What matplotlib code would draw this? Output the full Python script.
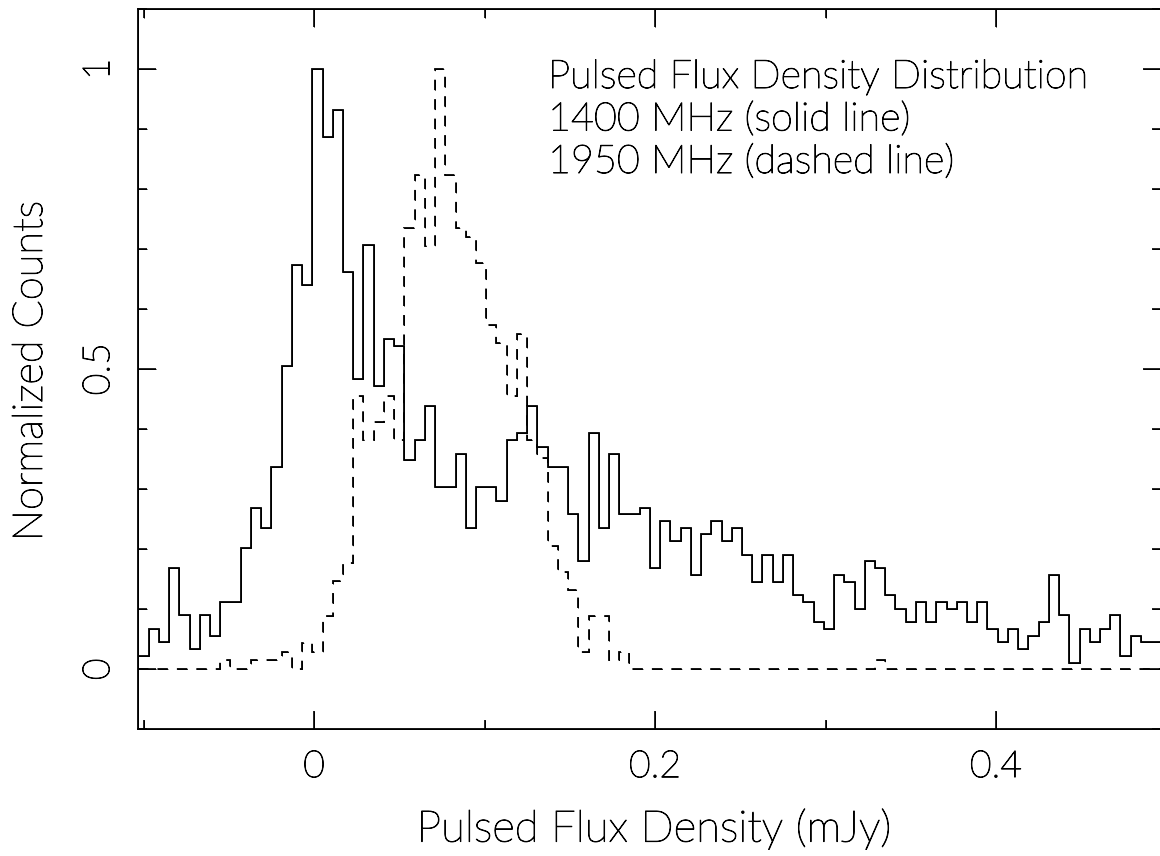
import numpy as np
import matplotlib
matplotlib.use("Agg")
import matplotlib.pyplot as plt
import matplotlib.patheffects as pe
from matplotlib.ticker import MultipleLocator

# histogram bins (mJy): 100 bins of 0.006 starting at -0.103
bin_start = -0.103
bin_width = 0.006
n_bins = 100

# counts per bin (1400 MHz, solid)
counts_1400 = [2, 6, 4, 15, 8, 3, 8, 5, 10, 10,
               18, 24, 21, 30, 45, 60, 57, 89, 79, 83,
               59, 43, 63, 42, 49, 48, 31, 34, 39, 27,
               27, 32, 21, 27, 27, 25, 34, 35, 39, 33,
               30, 30, 23, 16, 35, 21, 32, 23, 23, 24,
               15, 22, 19, 21, 14, 20, 22, 19, 21, 17,
               13, 17, 13, 17, 11, 10, 7, 6, 14, 13,
               9, 16, 15, 11, 9, 7, 10, 7, 10, 9,
               10, 7, 10, 6, 4, 6, 3, 5, 7, 14,
               8, 1, 6, 4, 6, 8, 2, 5, 4, 4]

# counts per bin (1950 MHz, dashed)
counts_1950 = [0, 0, 0, 0, 0, 0, 0, 0, 1, 0,
               0, 1, 1, 1, 2, 0, 3, 2, 6, 10,
               12, 31, 26, 28, 31, 26, 50, 56, 48, 68,
               56, 50, 49, 46, 39, 37, 31, 38, 26, 24,
               14, 11, 9, 2, 6, 6, 1, 2, 0, 0,
               0, 0, 0, 0, 0, 0, 0, 0, 0, 0,
               0, 0, 0, 0, 0, 0, 0, 0, 0, 0,
               0, 0, 1, 0, 0, 0, 0, 0, 0, 0,
               0, 0, 0, 0, 0, 0, 0, 0, 0, 0,
               0, 0, 0, 0, 0, 0, 0, 0, 0, 0]

legend_lines = ["Pulsed Flux Density Distribution",
                "1400 MHz (solid line)",
                "1950 MHz (dashed line)"]

edges = bin_start + bin_width * np.arange(n_bins + 1)
h1400 = np.array(counts_1400) / max(counts_1400)  # normalise to peak
h1950 = np.array(counts_1950) / max(counts_1950)

plt.rcParams['font.family'] = ['Lato', 'DejaVu Sans']
plt.rcParams['font.weight'] = 'light'
plt.rcParams['axes.labelweight'] = 'light'
plt.rcParams['lines.scale_dashes'] = False
# thin black stroke so the light font reads as black pen lines
plt.rcParams['path.effects'] = [pe.withStroke(linewidth=0.7, foreground='black')]

fig = plt.figure(figsize=(11.6, 8.56), dpi=100)
ax = fig.add_axes([138.4 / 1160, (856 - 729.3) / 856, 1023 / 1160, 720 / 856])

ax.stairs(h1400, edges, baseline=None, color='black', lw=1.3)
ax.stairs(h1950, edges, baseline=None, color='black', lw=1.3, linestyle=(0, (7.5, 6.5)))

ax.set_xlim(edges[0], edges[-1])
ax.set_ylim(-0.1, 1.1)

ax.xaxis.set_minor_locator(MultipleLocator(0.1))
ax.yaxis.set_minor_locator(MultipleLocator(0.1))
ax.set_xticks([0, 0.2, 0.4])
ax.set_xticklabels(['0', '0.2', '0.4'])
ax.set_yticks([0, 0.5, 1])
ax.set_yticklabels(['0', '0.5', '1'])

ax.tick_params(which='both', direction='in', top=True, right=True, width=1.2)
ax.tick_params(which='major', length=13)
ax.tick_params(which='minor', length=6.5)
ax.tick_params(axis='x', labelsize=27, pad=15)
ax.tick_params(axis='y', labelsize=27, pad=16, labelrotation=90)
for lab in ax.get_yticklabels():
    lab.set_verticalalignment('center')
for s in ax.spines.values():
    s.set_linewidth(1.3)

ax.set_xlabel('Pulsed Flux Density (mJy)', fontsize=31.5)
ax.set_ylabel('Normalized Counts', fontsize=30)
ax.xaxis.set_label_coords((654 - 138.4) / 1023, -(829 - 729.3) / 720)
ax.yaxis.set_label_coords(-(138.4 - 31) / 1023, (729.3 - 371) / 720)
ax.xaxis.label.set_va('center')
ax.yaxis.label.set_va('center')

for i, line in enumerate(legend_lines):
    fig.text(548 / 1160, 1 - (88 + 42.5 * i) / 856, line, fontsize=28.5,
             ha='left', va='baseline')

fig.savefig('out.png', dpi=100)
